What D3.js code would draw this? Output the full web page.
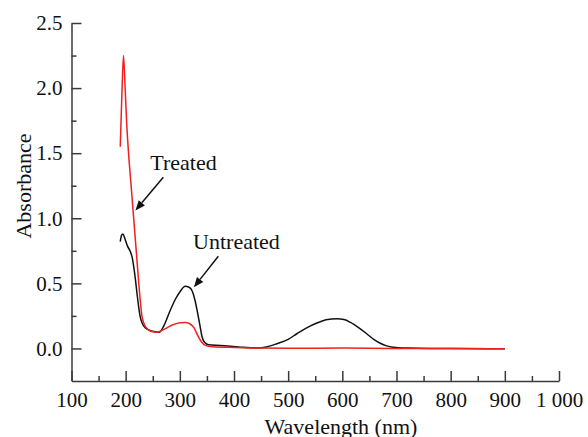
<!DOCTYPE html>
<html>
<head>
<meta charset="utf-8">
<script src="https://cdn.jsdelivr.net/npm/d3@7"></script>
<style>
  html, body { margin: 0; padding: 0; background: #fff; }
  svg { display: block; }
</style>
</head>
<body>
<svg id="chart" width="588" height="437"></svg>
<script>
// UV-Vis absorption spectra
const treatedWavelength = [190, 193, 196, 199, 202, 205, 210, 215, 220, 225, 230, 235, 240, 248, 258, 270, 285, 300, 310, 318, 326, 333, 340, 348, 360, 400, 450, 500, 600, 700, 800, 900];
const treatedAbsorbance = [1.55, 1.95, 2.25, 2.0, 1.72, 1.52, 1.255, 0.99, 0.725, 0.46, 0.25, 0.18, 0.15, 0.13, 0.125, 0.145, 0.178, 0.197, 0.2, 0.19, 0.16, 0.1, 0.05, 0.022, 0.014, 0.008, 0.003, 0.002, 0.003, 0.0, 0.0, -0.003];

const untreatedWavelength = [190, 192.5, 195, 198, 203, 209, 212, 215, 218, 221, 224, 227, 231, 236, 244, 252, 262, 270, 282, 292, 301, 310, 317, 323, 328, 332, 337, 341, 346, 353, 375, 412, 442, 460, 479, 500, 516, 535, 553, 570, 590, 603, 615, 630, 645, 658, 670, 682, 694, 720, 760, 800, 900];
const untreatedAbsorbance = [0.82, 0.87, 0.88, 0.85, 0.79, 0.74, 0.70, 0.625, 0.53, 0.42, 0.32, 0.24, 0.19, 0.16, 0.14, 0.13, 0.125, 0.17, 0.29, 0.38, 0.44, 0.477, 0.47, 0.44, 0.37, 0.29, 0.18, 0.09, 0.045, 0.028, 0.023, 0.01, 0.004, 0.012, 0.036, 0.07, 0.113, 0.16, 0.195, 0.22, 0.228, 0.222, 0.2, 0.16, 0.113, 0.07, 0.04, 0.02, 0.01, 0.003, 0.0, 0.0, -0.003];

const xMajorTicks = [100, 200, 300, 400, 500, 600, 700, 800, 900, 1000];
const xTickLabels = ["100", "200", "300", "400", "500", "600", "700", "800", "900", "1 000"];
const xMinorTicks = [150, 250, 350, 450, 550, 650, 750, 850, 950];
const yMajorTicks = [0.0, 0.5, 1.0, 1.5, 2.0, 2.5];
const yTickLabels = ["0.0", "0.5", "1.0", "1.5", "2.0", "2.5"];
const yMinorTicks = [0.25, 0.75, 1.25, 1.75, 2.25];

// annotation labels: text anchor point and arrow (tail -> tip) in data units
const annotations = [
  { text: "Treated",   x: 245.5, y: 1.37,  from: [269.5, 1.315], to: [218, 1.06] },
  { text: "Untreated", x: 324.5, y: 0.767, from: [371, 0.708],   to: [326, 0.47] }
];

const FONT = "'Liberation Serif', 'Times New Roman', Times, 'DejaVu Serif', serif";

const svg = d3.select("#chart");
const x = d3.scaleLinear().domain([100, 1000]).range([71.5, 559]);
const y = d3.scaleLinear().domain([-0.25, 2.5]).range([381, 23]);

const axisColor = "#3a3a3a";

// x axis
const gx = svg.append("g").attr("transform", "translate(0,381)");
gx.call(d3.axisBottom(x).tickValues(xMajorTicks)
  .tickFormat((d, i) => xTickLabels[i])
  .tickSize(-10).tickSizeOuter(0).tickPadding(11));
gx.append("g").call(d3.axisBottom(x).tickValues(xMinorTicks).tickFormat("").tickSize(-5).tickSizeOuter(0))
  .select(".domain").remove();

// y axis
const gy = svg.append("g").attr("transform", "translate(71.5,0)");
gy.call(d3.axisLeft(y).tickValues(yMajorTicks)
  .tickFormat((d, i) => yTickLabels[i])
  .tickSize(-10).tickSizeOuter(0).tickPadding(9));
gy.append("g").call(d3.axisLeft(y).tickValues(yMinorTicks).tickFormat("").tickSize(-5).tickSizeOuter(0))
  .select(".domain").remove();

svg.selectAll(".domain, .tick line").attr("stroke", axisColor).attr("stroke-width", 1.5);
svg.selectAll(".tick text")
  .style("font-family", FONT).style("font-size", "21px").attr("fill", "#111");

// axis titles
svg.append("text")
  .attr("x", 341).attr("y", 434)
  .attr("text-anchor", "middle")
  .style("font-family", FONT).style("font-size", "22px").attr("fill", "#111")
  .text("Wavelength (nm)");
svg.append("text")
  .attr("transform", "translate(31,186) rotate(-90)")
  .attr("text-anchor", "middle")
  .style("font-family", FONT).style("font-size", "22px").attr("fill", "#111")
  .text("Absorbance");

// spectra
const line = d3.line().x(d => x(d[0])).y(d => y(d[1])).curve(d3.curveMonotoneX);
const untreated = untreatedWavelength.map((w, i) => [w, untreatedAbsorbance[i]]);
const treated = treatedWavelength.map((w, i) => [w, treatedAbsorbance[i]]);

svg.append("path").datum(untreated).attr("d", line)
  .attr("fill", "none").attr("stroke", "#111").attr("stroke-width", 1.5);
svg.append("path").datum(treated).attr("d", line)
  .attr("fill", "none").attr("stroke", "#f02020").attr("stroke-width", 1.5);

// annotations with arrows
const ann = svg.append("g");
annotations.forEach(a => {
  ann.append("text").attr("x", x(a.x)).attr("y", y(a.y))
    .style("font-family", FONT).style("font-size", "22px").attr("fill", "#111")
    .text(a.text);
  const x0 = x(a.from[0]), y0 = y(a.from[1]);
  const x1 = x(a.to[0]), y1 = y(a.to[1]);
  const ang = Math.atan2(y1 - y0, x1 - x0);
  const headLen = 10, headW = 4;
  const bx = x1 - headLen * Math.cos(ang), by = y1 - headLen * Math.sin(ang);
  ann.append("line").attr("x1", x0).attr("y1", y0).attr("x2", bx).attr("y2", by)
    .attr("stroke", "#111").attr("stroke-width", 1.5);
  const px = -Math.sin(ang) * headW, py = Math.cos(ang) * headW;
  ann.append("path")
    .attr("d", `M${x1},${y1}L${bx + px},${by + py}L${bx - px},${by - py}Z`)
    .attr("fill", "#111");
});
</script>
</body>
</html>
